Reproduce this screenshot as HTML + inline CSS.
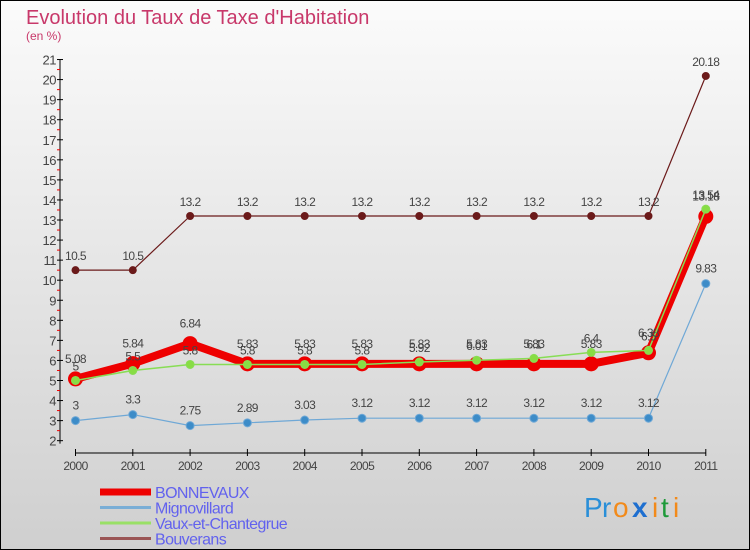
<!DOCTYPE html>
<html><head><meta charset="utf-8"><style>
body{margin:0}
svg{display:block}
text{font-family:"Liberation Sans",sans-serif}
</style></head><body>
<svg width="750" height="550" viewBox="0 0 750 550">
<defs><linearGradient id="bg" x1="0" y1="0" x2="0" y2="1"><stop offset="0" stop-color="#fbfbfb"/><stop offset="1" stop-color="#cfcfcf"/></linearGradient></defs>
<rect x="0.5" y="0.5" width="749" height="549" fill="url(#bg)" stroke="#000"/>
<text x="26" y="24" font-size="20" fill="#c8386a">Evolution du Taux de Taxe d'Habitation</text>
<text x="26" y="40" font-size="12" fill="#c8386a">(en %)</text>
<g id="axes"></g>
<g id="series"></g>
<g id="legend"></g>
<g font-size="28">
<text x="584" y="517" fill="#2a8fd8">P</text><text x="602" y="517" fill="#2a8fd8">r</text><text x="613" y="517" fill="#f28a1a">o</text><text x="632" y="517" fill="#1e6fd0" font-weight="bold">x</text><text x="652" y="517" fill="#f28a1a">i</text><text x="661" y="517" fill="#1e9a3a">t</text><text x="673" y="517" fill="#f28a1a">i</text>
</g>
</svg>
<script>
const years=["2000","2001","2002","2003","2004","2005","2006","2007","2008","2009","2010","2011"];
const yTicks=[2,3,4,5,6,7,8,9,10,11,12,13,14,15,16,17,18,19,20,21];
const bouverans=[10.5,10.5,13.2,13.2,13.2,13.2,13.2,13.2,13.2,13.2,13.2,20.18];
const mignovillard=[3,3.3,2.75,2.89,3.03,3.12,3.12,3.12,3.12,3.12,3.12,9.83];
const vaux=[5,5.5,5.8,5.8,5.8,5.8,5.92,6.01,6.1,6.4,6.5,13.54];
const bonnevaux=[5.08,5.84,6.84,5.83,5.83,5.83,5.83,5.83,5.83,5.83,6.38,13.18];
const NS="http://www.w3.org/2000/svg";
const X=i=>75.5+i*57.3;
const Y=v=>216-(v-13.2)*20.06;
function mk(tag,attrs,parent,txt){const e=document.createElementNS(NS,tag);for(const k in attrs)e.setAttribute(k,attrs[k]);if(txt!==undefined)e.textContent=txt;parent.appendChild(e);return e;}
const ax=document.getElementById('axes');
let yl=mk('line',{x1:60,y1:Y(21),x2:60,y2:Y(2)+3,stroke:'#000'},ax);


yTicks.forEach(t=>{
 mk('line',{x1:57,y1:Y(t),x2:63,y2:Y(t),stroke:'#000'},ax);
 if(t<21)mk('line',{x1:57,y1:Y(t+0.5),x2:60,y2:Y(t+0.5),stroke:'#e00'},ax);
 let l=mk('text',{x:56,y:Y(t)+5,'font-size':13,'text-anchor':'end',fill:'#444','letter-spacing':'-0.5'},ax,String(t));
 
 
});
let xl=mk('line',{x1:X(0),y1:453,x2:X(11),y2:453,stroke:'#000'},ax);


years.forEach((y,i)=>{
 mk('line',{x1:X(i),y1:449,x2:X(i),y2:456,stroke:'#000'},ax);
 let l=mk('text',{x:X(i),y:470,'font-size':12,'text-anchor':'middle',fill:'#444','letter-spacing':'-0.6'},ax,y);
 
 
});
const sg=document.getElementById('series');
function series(name,data,color,w,r,fill,labelOff){
 const g=mk('g',{},sg);
 
 
 mk('polyline',{points:data.map((v,i)=>X(i)+','+Y(v)).join(' '),fill:'none',stroke:color,'stroke-width':w,'stroke-linejoin':'round'},g);
 data.forEach((v,i)=>{
  const c=mk('circle',{cx:X(i),cy:Y(v),r:r,fill:fill,stroke:color,'stroke-width':1},g);
  
  
  const t=mk('text',{x:X(i),y:Y(v)-labelOff,'font-size':12,'text-anchor':'middle',fill:'#444','letter-spacing':'-0.6'},g,String(v));
  
  
 });
}
series('bouverans',bouverans,'#6b1a1a',1.2,3.5,'#6b1a1a',10);
series('mignovillard',mignovillard,'#6fa8d6',1.2,4,'#3d8cc8',11);
series('bonnevaux',bonnevaux,'#ee0000',8,7,'#ee0000',16);
series('vaux-et-chantegrue',vaux,'#88dd55',1.5,4,'#88dd44',10);
const lg=document.getElementById('legend');
[["BONNEVAUX","#ee0000",7],["Mignovillard","#7aaed6",3],["Vaux-et-Chantegrue","#99e066",3],["Bouverans","#9a5555",3]].forEach((e,i)=>{
 const y=492+i*15.5;
 const g=mk('g',{},lg);
 
 
 mk('line',{x1:100,y1:y,x2:151,y2:y,stroke:e[1],'stroke-width':e[2]},g);
 mk('text',{x:155,y:y+6,'font-size':16,fill:'#6262ee','letter-spacing':'-0.6'},g,e[0]);
});
</script>
</body></html>
